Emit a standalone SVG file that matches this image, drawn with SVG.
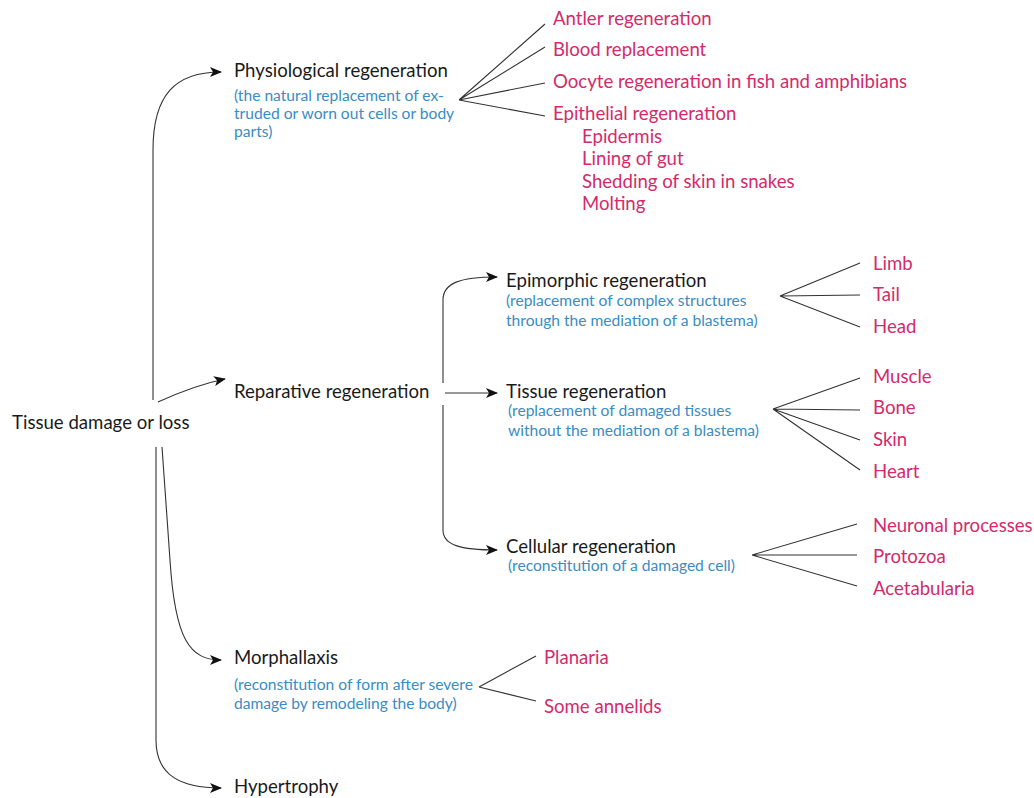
<svg xmlns="http://www.w3.org/2000/svg" width="1034" height="798" viewBox="0 0 1034 798">
<style>
text{font-family:Lato,"Open Sans","Liberation Sans",sans-serif}
.m{font-size:18.6px;fill:#1a1a1a}
.d{font-size:15.6px;fill:#3a8cc4}
.r{font-size:18.6px;fill:#d42a6a}
.c{fill:none;stroke:#333;stroke-width:1.1}
.a{fill:none;stroke:#333;stroke-width:1.1;marker-end:url(#ah)}
</style>
<defs>
<marker id="ah" viewBox="0 0 12 10" refX="11" refY="5" markerWidth="12" markerHeight="10" markerUnits="userSpaceOnUse" orient="auto">
<path d="M0,0 L12,5 L0,10 L3,5 Z" fill="#111"/>
</marker>
</defs>
<rect width="1034" height="798" fill="#fff"/>
<g id="connectors">
<path class="a" d="M153,400 L153,150 C153,95 175,72 221,72"/>
<path class="a" d="M158,402 C180,392 200,384 225,379"/>
<path class="a" d="M162,447 L170,560 C175,640 190,660 221,660"/>
<path class="a" d="M156,447 L156,740 C156,775 180,788 221,788"/>
<path class="c" d="M459,100 L545,24 M459,100 L545,47 M459,100 L545,83 M459,100 L545,116"/>
<path class="a" d="M443,383 L443,300 C443,283 460,277 497,277"/>
<path class="a" d="M445,393 L497,393"/>
<path class="a" d="M443,405 L443,530 C443,545 460,550 497,550"/>
<path class="c" d="M780,296 L860,263 M780,296 L860,295 M780,296 L860,327"/>
<path class="c" d="M773,409 L860,378 M773,409 L860,410 M773,409 L860,440 M773,409 L860,470"/>
<path class="c" d="M752,555 L857,524 M752,555 L857,555 M752,555 L857,586"/>
<path class="c" d="M479,687 L536,656 M479,687 L536,701"/>
</g>
<g id="root"><text class="m" x="12" y="429">Tissue damage or loss</text></g>
<g id="physiological">
<text class="m" x="234" y="77">Physiological regeneration</text>
<text class="d" x="234" y="101">(the natural replacement of ex-</text>
<text class="d" x="234" y="119">truded or worn out cells or body</text>
<text class="d" x="234" y="137">parts)</text>
</g>
<g id="physio-examples">
<text class="r" x="553" y="25">Antler regeneration</text>
<text class="r" x="553" y="56">Blood replacement</text>
<text class="r" x="553" y="88">Oocyte regeneration in fish and amphibians</text>
<text class="r" x="553" y="120">Epithelial regeneration</text>
<text class="r" x="582" y="143">Epidermis</text>
<text class="r" x="582" y="165">Lining of gut</text>
<text class="r" x="582" y="188">Shedding of skin in snakes</text>
<text class="r" x="582" y="210">Molting</text>
</g>
<g id="reparative"><text class="m" x="234" y="398">Reparative regeneration</text></g>
<g id="epimorphic">
<text class="m" x="506" y="287">Epimorphic regeneration</text>
<text class="d" x="506" y="306">(replacement of complex structures</text>
<text class="d" x="506" y="326">through the mediation of a blastema)</text>
</g>
<g id="epimorphic-examples">
<text class="r" x="873" y="270">Limb</text>
<text class="r" x="873" y="301">Tail</text>
<text class="r" x="873" y="333">Head</text>
</g>
<g id="tissue">
<text class="m" x="506" y="398">Tissue regeneration</text>
<text class="d" x="508" y="416">(replacement of damaged tissues</text>
<text class="d" x="508" y="436">without the mediation of a blastema)</text>
</g>
<g id="tissue-examples">
<text class="r" x="873" y="383">Muscle</text>
<text class="r" x="873" y="414">Bone</text>
<text class="r" x="873" y="446">Skin</text>
<text class="r" x="873" y="478">Heart</text>
</g>
<g id="cellular">
<text class="m" x="506" y="553">Cellular regeneration</text>
<text class="d" x="508" y="571">(reconstitution of a damaged cell)</text>
</g>
<g id="cellular-examples">
<text class="r" x="873" y="532">Neuronal processes</text>
<text class="r" x="873" y="563">Protozoa</text>
<text class="r" x="873" y="595">Acetabularia</text>
</g>
<g id="morphallaxis">
<text class="m" x="234" y="664">Morphallaxis</text>
<text class="d" x="234" y="690">(reconstitution of form after severe</text>
<text class="d" x="234" y="709">damage by remodeling the body)</text>
</g>
<g id="morph-examples">
<text class="r" x="544" y="664">Planaria</text>
<text class="r" x="544" y="713">Some annelids</text>
</g>
<g id="hypertrophy"><text class="m" x="234" y="793">Hypertrophy</text></g>
</svg>
